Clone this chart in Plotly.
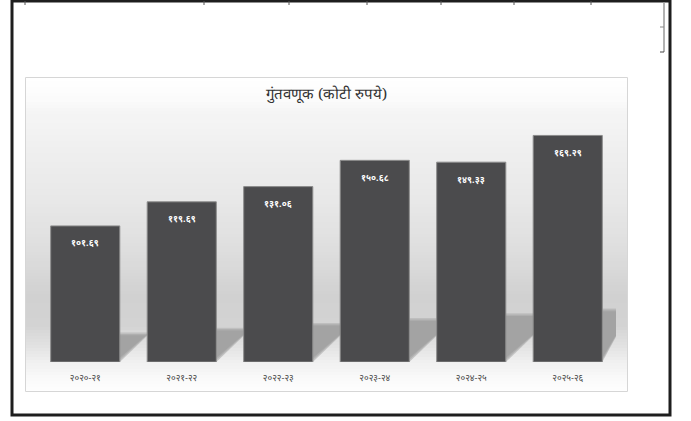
import plotly.graph_objects as go

# ---- data ----
years = ["२०२०-२१", "२०२१-२२", "२०२२-२३", "२०२३-२४", "२०२४-२५", "२०२५-२६"]
investment = [101.69, 119.69, 131.06, 150.68, 149.33, 169.29]
value_labels = ["१०१.६९", "११९.६९", "१३१.०६", "१५०.६८", "१४९.३३", "१६९.२९"]
title_text = "गुंतवणूक (कोटी रुपये)"

W, H = 691, 421
ML, MR, MT, MB = 37, 75, 108, 59
PW, PH = W - ML - MR, H - MT - MB


def px(x):
    return (x - ML) / PW


def py(y):
    return (H - MB - y) / PH


shapes = []

# background vertical gradient of the chart area (decoration)
stops = [(78, 255), (100, 251), (112, 245), (150, 239), (200, 232), (250, 222),
         (295, 209), (325, 211), (345, 225), (362, 240), (378, 250), (391, 254)]


def gray_at(y):
    for (y0, g0), (y1, g1) in zip(stops[:-1], stops[1:]):
        if y0 <= y <= y1:
            t = (y - y0) / (y1 - y0)
            return g0 + (g1 - g0) * t
    return stops[-1][1]


y = 78.0
step = 3.0
while y < 391:
    y2 = min(y + step, 391)
    g = int(round(gray_at((y + y2) / 2)))
    shapes.append(dict(type="rect", xref="paper", yref="paper",
                       x0=px(26), x1=px(627), y0=py(y2 + 0.3), y1=py(y),
                       fillcolor=f"rgb({g},{g},{g})", line=dict(width=0),
                       layer="below"))
    y = y2

# bar shadows (decoration, derived from category index)
half = 0.358
n = len(years)
for i in range(n):
    xr = i + half
    dx = 0.29 if i < n - 1 else 0.15
    dy = 20
    top = 22 + 3.6 * i
    for k, (col, op) in enumerate([("rgb(185,185,185)", 0.8),
                                   ("rgb(168,168,168)", 0.7),
                                   ("rgb(155,155,155)", 0.6)]):
        shrink = k * 0.25
        ytop = top - shrink * 4
        path = (f"M {xr},{shrink * 6} L {xr + dx},{dy + shrink * 2} "
                f"L {xr + dx},{ytop} L {xr},{ytop} Z")
        shapes.append(dict(type="path", xref="x", yref="y", path=path,
                           fillcolor=col, line=dict(width=0),
                           opacity=op, layer="below"))

# chart area border
shapes.append(dict(type="rect", xref="paper", yref="paper",
                   x0=px(25.5), x1=px(627.5), y0=py(391.5), y1=py(77.5),
                   line=dict(color="#d6d6d6", width=1), layer="below"))

# outer black frame
shapes.append(dict(type="rect", xref="paper", yref="paper",
                   x0=px(12), x1=px(670), y0=py(415), y1=py(1),
                   line=dict(color="#1e1e1e", width=3)))

# small top tick artifacts
for tx in [25, 204, 289, 367, 441, 514, 591]:
    shapes.append(dict(type="line", xref="paper", yref="paper",
                       x0=px(tx), x1=px(tx), y0=py(5), y1=py(1),
                       line=dict(color="#555", width=1)))
# right bracket
shapes.append(dict(type="line", xref="paper", yref="paper",
                   x0=px(664), x1=px(664), y0=py(52), y1=py(2),
                   line=dict(color="#999", width=1.5)))
shapes.append(dict(type="line", xref="paper", yref="paper",
                   x0=px(660), x1=px(664), y0=py(27), y1=py(27),
                   line=dict(color="#888", width=1)))
shapes.append(dict(type="line", xref="paper", yref="paper",
                   x0=px(660), x1=px(664), y0=py(52), y1=py(52),
                   line=dict(color="#444", width=1)))

fig = go.Figure()
fig.add_trace(go.Bar(
    x=years, y=investment,
    marker=dict(color="#4b4b4d", line=dict(color="#8c8c8c", width=1)),
    hoverinfo="skip",
))

annotations = []
for xc, v, lab in zip(years, investment, value_labels):
    annotations.append(dict(x=xc, y=v, xref="x", yref="y", text=f"<b>{lab}</b>",
                            showarrow=False, yshift=-17,
                            font=dict(color="white", size=9,
                                      family="Noto Sans, DejaVu Sans, sans-serif")))

annotations.append(dict(x=px(326), y=py(93), xref="paper", yref="paper",
                        xanchor="center", yanchor="middle",
                        text=title_text, showarrow=False,
                        font=dict(color="#333333", size=15,
                                  family="Noto Serif, DejaVu Serif, serif")))

fig.update_layout(
    width=W, height=H,
    margin=dict(l=ML, r=MR, t=MT, b=MB, pad=0),
    paper_bgcolor="white",
    plot_bgcolor="rgba(0,0,0,0)",
    bargap=0.284,
    showlegend=False,
    shapes=shapes,
    annotations=annotations,
    xaxis=dict(range=[-0.5, 5.5], showgrid=False, zeroline=False,
               showline=False, ticks="",
               tickfont=dict(size=9, color="#444444",
                             family="Noto Sans, DejaVu Sans, sans-serif"),
               ticklabelstandoff=9),
    yaxis=dict(range=[0, 189.8], visible=False, showgrid=False,
               zeroline=False),
)

fig.write_html("out.html",
               config={"displayModeBar": False, "staticPlot": True},
               post_script="document.body.style.margin='0';"
                           "document.body.style.overflow='hidden';")
